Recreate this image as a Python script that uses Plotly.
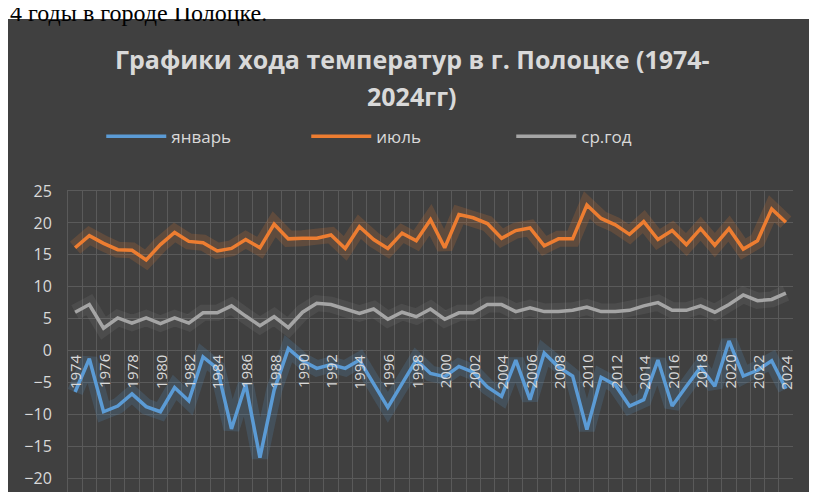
import plotly.graph_objects as go

# data
years = list(range(1974, 2025))
january = [-6.5, -1.3, -9.6, -8.7, -6.8, -8.8, -9.6, -5.8, -7.9, -1.0,
           -2.8, -12.3, -5.3, -16.8, -6.2, 0.3, -1.6, -2.8, -2.2, -2.8,
           -1.5, -5.2, -8.9, -5.2, -1.5, -3.6, -4.1, -2.5, -3.4, -5.7,
           -7.2, -1.5, -7.7, -0.4, -2.6, -4.0, -12.4, -4.2, -5.4, -8.7,
           -7.7, -1.5, -8.7, -5.6, -2.6, -5.6, 1.5, -4.0, -3.1, -1.6, -6.0]
july = [16.1, 18.0, 16.8, 15.8, 15.7, 14.2, 16.6, 18.5, 17.1, 16.9,
        15.6, 16.0, 17.4, 16.1, 19.8, 17.5, 17.6, 17.6, 18.1, 16.0,
        19.4, 17.4, 16.0, 18.4, 17.2, 20.5, 16.1, 21.3, 20.8, 19.9,
        17.6, 18.8, 19.2, 16.4, 17.5, 17.5, 22.8, 20.7, 19.7, 18.2,
        20.2, 17.4, 18.8, 16.6, 19.1, 16.5, 19.1, 15.9, 17.2, 22.2, 20.1]
year_avg = [6.0, 7.2, 3.5, 5.1, 4.3, 5.1, 4.2, 5.1, 4.3, 5.9,
            5.9, 7.0, 5.4, 3.9, 5.3, 3.6, 6.0, 7.4, 7.2, 6.5,
            5.8, 6.5, 4.9, 6.0, 5.3, 6.5, 4.9, 5.9, 5.9, 7.2,
            7.2, 6.1, 6.7, 6.1, 6.1, 6.3, 6.8, 6.1, 6.1, 6.3,
            7.0, 7.5, 6.3, 6.3, 7.0, 6.0, 7.2, 8.7, 7.8, 8.0, 9.0]
series_names = ["январь", "июль", "ср.год"]
tick_years = years[::2]

colors = ["#5b9bd5", "#ed7d31", "#a5a5a5"]
glows = ["rgba(91,155,213,0.18)", "rgba(237,125,49,0.18)", "rgba(165,165,165,0.12)"]
TXT = "#d9d9d9"

fig = go.Figure()
for vals, name, c, g in zip([january, july, year_avg], series_names, colors, glows):
    # soft glow under each line
    fig.add_trace(go.Scatter(x=years, y=vals, mode="lines", line=dict(color=g, width=16),
                             showlegend=False, hoverinfo="skip"))
    fig.add_trace(go.Scatter(x=years, y=vals, mode="lines", name=name,
                             line=dict(color=c, width=3.5)))

# year labels sit on the zero line, rotated
for yr in tick_years:
    fig.add_annotation(x=yr, y=0, text=str(yr), showarrow=False, textangle=-90,
                       yanchor="top", yshift=-2, font=dict(size=15, color=TXT))

# dark chart panel
fig.add_shape(type="rect", xref="paper", yref="paper", x0=-0.083, x1=1.034, y0=-0.2, y1=1.539,
              fillcolor="#404040", line=dict(width=0), layer="below")
fig.add_annotation(xref="paper", yref="paper", x=-0.083, y=1.57, xanchor="left", yanchor="middle",
                   yshift=-4, text="4 годы в городе Полоцке.", showarrow=False,
                   font=dict(family="Liberation Serif", size=24, color="black"))

# two-line title with Excel-like spacing
for txt, py in [("<b>Графики хода температур в г. Полоцке (1974-</b>", 1.415),
                ("<b>2024гг)</b>", 1.297)]:
    fig.add_annotation(xref="paper", yref="paper", x=0.475, y=py, text=txt, showarrow=False,
                       xanchor="center", yanchor="middle", font=dict(size=25, color=TXT))

fig.update_layout(
    width=817, height=525,
    margin=dict(l=60, r=32, t=183, b=21),
    paper_bgcolor="white", plot_bgcolor="#404040",
    font=dict(family="Open Sans", color=TXT),
    legend=dict(orientation="h", x=0.47, xanchor="center", y=1.17, yanchor="middle",
                font=dict(size=17, color=TXT), bgcolor="rgba(0,0,0,0)",
                itemwidth=60, entrywidth=130),
    showlegend=True,
)
fig.update_xaxes(range=[1973.5, 2024.5], tickvals=[y + 0.5 for y in years], showticklabels=False,
                 showgrid=True, gridcolor="#5a5a5a", gridwidth=1, zeroline=False,
                 showline=True, linecolor="#5a5a5a", mirror=True)
fig.update_yaxes(range=[-25, 25], dtick=5, showgrid=True, gridcolor="#5a5a5a", gridwidth=1,
                 zeroline=False, tickfont=dict(size=16, color=TXT), ticklabelstandoff=12,
                 showline=True, linecolor="#5a5a5a")

fig.write_html("out.html")
